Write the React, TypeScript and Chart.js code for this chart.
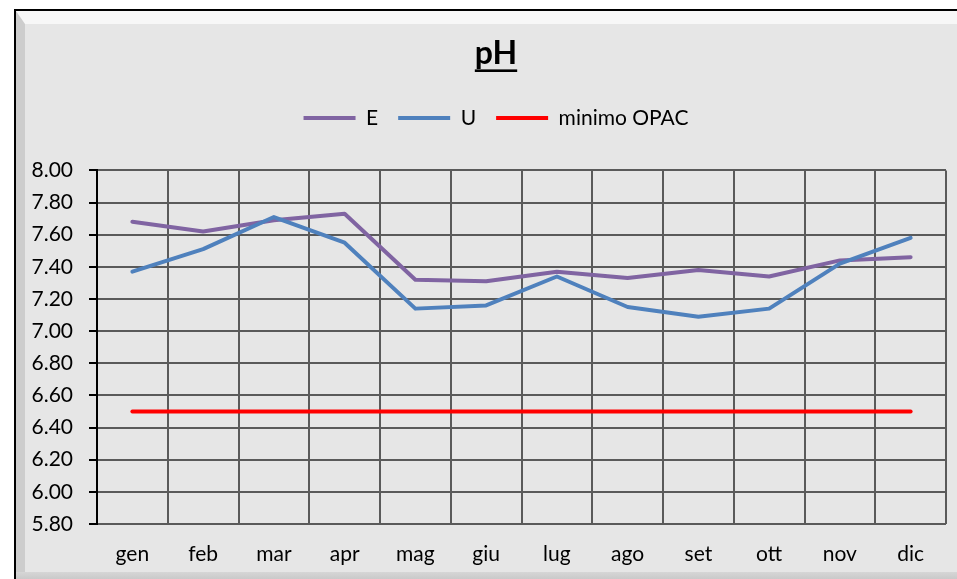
import React, { useEffect, useRef } from 'react';
import { Chart, registerables } from 'chart.js';

Chart.register(...registerables);

const months = ['gen', 'feb', 'mar', 'apr', 'mag', 'giu', 'lug', 'ago', 'set', 'ott', 'nov', 'dic'];
const seriesE = [7.68, 7.62, 7.69, 7.73, 7.32, 7.31, 7.37, 7.33, 7.38, 7.34, 7.44, 7.46];
const seriesU = [7.37, 7.51, 7.71, 7.55, 7.14, 7.16, 7.34, 7.15, 7.09, 7.14, 7.42, 7.58];
const minimoOPAC = [6.5, 6.5, 6.5, 6.5, 6.5, 6.5, 6.5, 6.5, 6.5, 6.5, 6.5, 6.5];
const yTickValues = [5.8, 6.0, 6.2, 6.4, 6.6, 6.8, 7.0, 7.2, 7.4, 7.6, 7.8, 8.0];
const titleText = 'pH';

const FONT = 'Lato';
const TITLE_SIZE = 32;
const TITLE_PAD_TOP = 34;
const LABEL_SIZE = 21;
const HEADER_LEFT = 46;

const underlinePlugin = {
  id: 'titleUnderline',
  afterDraw(chart: any) {
    const tb = chart.titleBlock;
    if (!tb) return;
    const ctx = chart.ctx;
    ctx.save();
    ctx.font = `bold ${TITLE_SIZE}px ${FONT}`;
    const w = ctx.measureText(titleText).width;
    const cx = (tb.left + tb.right) / 2;
    const y = tb.top + TITLE_PAD_TOP + (TITLE_SIZE * 1.2) / 2 + 17.5;
    ctx.fillStyle = '#000';
    ctx.fillRect(cx - w / 2, y - 1.3, w, 2.6);
    ctx.restore();
  },
};

const headerPlugin = {
  id: 'headerLayout',
  beforeLayout(chart: any) {
    const legend = chart.legend;
    if (legend && !legend._spacerPatched) {
      const orig = legend.fit;
      legend.fit = function () {
        orig.call(this);
        this.height += 32;
      };
      legend._spacerPatched = true;
    }
  },
  afterLayout(chart: any) {
    if (chart.titleBlock) chart.titleBlock.left = HEADER_LEFT;
    if (chart.legend) chart.legend.left = HEADER_LEFT;
  },
};

function PhChart() {
  const ref = useRef<HTMLCanvasElement | null>(null);
  useEffect(() => {
    if (!ref.current) return;
    Chart.defaults.font.family = FONT;
    const chart = new Chart(ref.current, {
      type: 'line',
      data: {
        labels: months,
        datasets: [
          {
            label: 'E',
            data: seriesE,
            borderColor: '#8064A2',
            backgroundColor: '#8064A2',
            borderWidth: 4,
            pointRadius: 0,
            tension: 0,
            borderCapStyle: 'round',
            borderJoinStyle: 'round',
            order: 3,
          },
          {
            label: 'U',
            data: seriesU,
            borderColor: '#4F81BD',
            backgroundColor: '#4F81BD',
            borderWidth: 4,
            pointRadius: 0,
            tension: 0,
            borderCapStyle: 'round',
            borderJoinStyle: 'round',
            order: 2,
          },
          {
            label: 'minimo OPAC',
            data: minimoOPAC,
            borderColor: '#FF0000',
            backgroundColor: '#FF0000',
            borderWidth: 4,
            pointRadius: 0,
            tension: 0,
            borderCapStyle: 'round',
            borderJoinStyle: 'round',
            order: 1,
          },
        ],
      },
      options: {
        animation: false,
        responsive: false,
        maintainAspectRatio: false,
        layout: { padding: { left: 0, right: 11, top: 0, bottom: 0 } },
        plugins: {
          tooltip: { enabled: false },
          title: {
            display: true,
            text: titleText,
            color: '#000',
            font: { family: FONT, size: TITLE_SIZE, weight: 'bold' },
            padding: { top: TITLE_PAD_TOP, bottom: 15 },
          },
          legend: {
            display: true,
            position: 'top',
            labels: {
              usePointStyle: true,
              pointStyleWidth: 52,
              pointStyle: 'line',
              padding: 20,
              color: '#000',
              font: { family: FONT, size: LABEL_SIZE },
              sort: (a: any, b: any) => a.datasetIndex - b.datasetIndex,
            },
          },
        },
        scales: {
          x: {
            type: 'category',
            offset: true,
            grid: {
              display: true,
              offset: true,
              color: '#5a5a5a',
              lineWidth: 2,
              drawTicks: false,
            },
            border: { display: false },
            ticks: {
              color: '#000',
              font: { family: FONT, size: LABEL_SIZE },
              padding: 18,
              autoSkip: false,
              maxRotation: 0,
            },
            afterFit: (scale: any) => {
              scale.height = 55;
            },
          },
          y: {
            type: 'linear',
            min: 5.8,
            max: 8.0,
            grid: {
              color: '#5a5a5a',
              lineWidth: 2,
              drawTicks: true,
              tickLength: 8,
              tickColor: '#000',
              tickWidth: 2,
            },
            border: { display: true, color: '#000', width: 2 },
            ticks: {
              color: '#000',
              font: { family: FONT, size: LABEL_SIZE },
              padding: 16,
              callback: (v: any) => Number(v).toFixed(2),
            },
            afterBuildTicks: (scale: any) => {
              scale.ticks = yTickValues.map((v) => ({ value: v }));
            },
            afterFit: (scale: any) => {
              scale.width = 97;
            },
          },
        },
      },
      plugins: [underlinePlugin, headerPlugin],
    } as any);
    return () => chart.destroy();
  }, []);

  return (
    <canvas
      ref={ref}
      width={957}
      height={579}
      style={{ position: 'absolute', left: 0, top: 0, width: 957, height: 579 }}
    />
  );
}

export default function App() {
  return (
    <div
      style={{
        position: 'fixed',
        left: 0,
        top: 0,
        width: 957,
        height: 579,
        overflow: 'hidden',
        background: '#ffffff',
      }}
    >
      <div
        style={{
          position: 'absolute',
          left: 14,
          top: 9,
          width: 1000,
          height: 600,
          borderTop: '2px solid #000',
          borderLeft: '2px solid #000',
          boxSizing: 'border-box',
        }}
      />
      <div
        style={{
          position: 'absolute',
          left: 16,
          top: 11,
          width: 1000,
          height: 561,
          boxSizing: 'border-box',
          background: '#e6e6e6',
          borderTop: '13px solid #f7f7f7',
          borderLeft: '9px solid #cdcdcd',
        }}
      />
      <div
        style={{
          position: 'absolute',
          left: 16,
          top: 572,
          width: 1000,
          height: 10,
          background: 'linear-gradient(to bottom, #d6d6d6, #c4c4c4)',
        }}
      />
      <PhChart />
    </div>
  );
}
